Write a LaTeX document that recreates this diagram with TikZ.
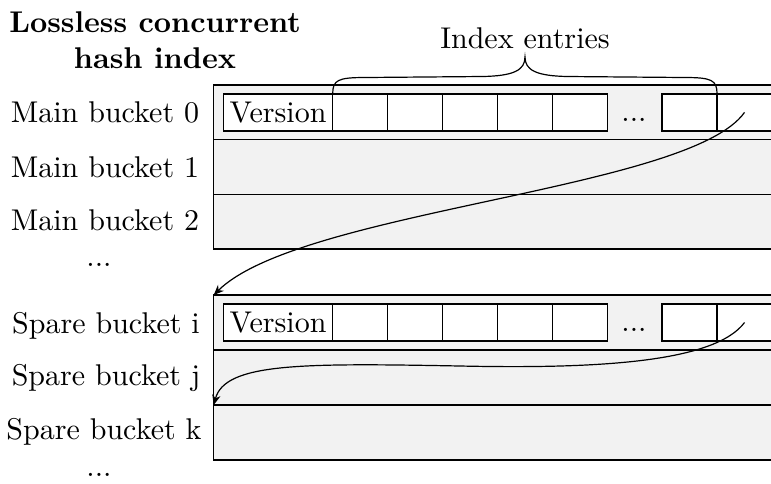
\documentclass[tikz,border=0pt]{standalone}
\usetikzlibrary{arrows.meta,positioning}
\definecolor{rowgray}{HTML}{F2F2F2}
\begin{document}
\begin{tikzpicture}[x=0.33333pt,y=-0.33333pt,
  bucketrow/.style={draw=black, line width=0.45pt, fill=rowgray, anchor=north west, minimum width=196pt, inner sep=0pt, outer sep=0pt},
  cellbox/.style={draw=black, line width=0.45pt, fill=white, anchor=west, minimum width=18.33pt, minimum height=12.33pt, inner sep=0pt, outer sep=0pt},
  verbox/.style={cellbox, minimum width=36.47pt},
  lbl/.style={anchor=base, inner sep=0pt},
  link/.style={draw=black, -{Stealth[length=3.4pt,width=2.8pt]}}
]
\useasboundingbox (0,0) rectangle (771,483);

% title and labels
\node[lbl, font=\bfseries, align=center] (title) at (155,68.5) {Lossless concurrent\\hash index};
\node[lbl] (idx) at (525,48.3) {Index entries};

\node[lbl] (lm0) at (105,122.3) {Main bucket 0};
\node[lbl] (lm1) at (105,177.3) {Main bucket 1};
\node[lbl] (lm2) at (105,230.5) {Main bucket 2};
\node[lbl] (ldm) at (99,266.7) {...};
\node[lbl] (ls0) at (106,333.3) {Spare bucket i};
\node[lbl] (ls1) at (106,385) {Spare bucket j};
\node[lbl] (ls2) at (104,439.3) {Spare bucket k};
\node[lbl] (lds) at (99,476.7) {...};

% main buckets
\node[bucketrow, minimum height=18.22pt] (m0) at (213.7,85) {};
\node[bucketrow, minimum height=18.22pt] (m1) at (m0.south west) {};
\node[bucketrow, minimum height=18.22pt] (m2) at (m1.south west) {};

% spare buckets
\node[bucketrow, minimum height=18.33pt] (s0) at (213.7,295) {};
\node[bucketrow, minimum height=18.33pt] (s1) at (s0.south west) {};
\node[bucketrow, minimum height=18.33pt] (s2) at (s1.south west) {};

% cells of main bucket 0
\node[verbox] (m0v) at ([xshift=3.2pt]m0.west) {Version};
\node[cellbox] (m0c1) at (m0v.east) {};
\node[cellbox] (m0c2) at (m0c1.east) {};
\node[cellbox] (m0c3) at (m0c2.east) {};
\node[cellbox] (m0c4) at (m0c3.east) {};
\node[cellbox] (m0c5) at (m0c4.east) {};
\node[cellbox] (m0c6) at ([xshift=18.13pt]m0c5.east) {};
\node[cellbox] (m0c7) at (m0c6.east) {};
\node[lbl] (m0d) at (634,121) {...};

% cells of spare bucket i
\node[verbox] (s0v) at ([xshift=3.2pt]s0.west) {Version};
\node[cellbox] (s0c1) at (s0v.east) {};
\node[cellbox] (s0c2) at (s0c1.east) {};
\node[cellbox] (s0c3) at (s0c2.east) {};
\node[cellbox] (s0c4) at (s0c3.east) {};
\node[cellbox] (s0c5) at (s0c4.east) {};
\node[cellbox] (s0c6) at ([xshift=18.13pt]s0c5.east) {};
\node[cellbox] (s0c7) at (s0c6.east) {};
\node[lbl] (s0d) at (634,331) {...};

% brace over index entries
\coordinate (bl) at (m0c1.north west);
\coordinate (br) at (m0c6.north east);
\coordinate (btip) at (525,57);
\draw (bl) .. controls ([yshift=4.6pt]bl) and (338,77.5) .. (365,77.5)
  -- (482,76.5) .. controls (514,76) and (525,70) .. (btip)
  .. controls (525,70) and (536,76) .. (568,76.5)
  -- (685,77.5) .. controls (711.4,77.5) and ([yshift=4.6pt]br) .. (br);

% links
\draw[link] (m0c7.center) .. controls (690,190) and (300,210) .. (s0.north west);
\coordinate (mid2) at (460,366);
\draw[link] (s0c7.center) .. controls (715,362) and (600,369) .. (mid2)
  .. controls (300,363) and (225,363) .. (s2.north west);
\end{tikzpicture}
\end{document}
